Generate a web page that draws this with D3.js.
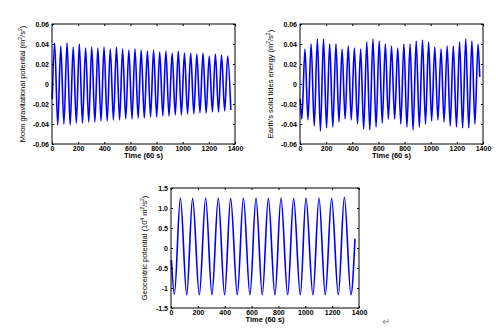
<!DOCTYPE html>
<html>
<head>
<meta charset="utf-8">
<script src="https://cdn.jsdelivr.net/npm/d3@7/dist/d3.min.js"></script>
<style>
  html, body { margin: 0; padding: 0; background: #fff; }
  svg { display: block; }
  text { font-family: "Liberation Sans", Arial, sans-serif; fill: #000; }
</style>
</head>
<body>
<svg id="chart" width="496" height="329"></svg>
<script>
// Time axis (units of 60 s)
const timeTicks = [0, 200, 400, 600, 800, 1000, 1200, 1400];

// Moon gravitational potential: start, alternating crests/troughs, end (m^2/s^2)
const moonStart = [2, -0.015];
const moonPeakT = [20, 67, 115, 162, 209, 257, 304, 351, 398, 446, 493, 540, 588, 635, 682, 730, 777, 824, 871, 919, 966, 1013, 1061, 1108, 1155, 1203, 1250, 1297, 1344];
const moonPeakV = [0.041, 0.038, 0.041, 0.037, 0.040, 0.036, 0.037, 0.036, 0.037, 0.035, 0.037, 0.035, 0.034, 0.035, 0.034, 0.033, 0.034, 0.032, 0.033, 0.031, 0.033, 0.031, 0.031, 0.030, 0.031, 0.028, 0.030, 0.029, 0.028];
const moonTroughT = [44, 91, 139, 186, 233, 281, 328, 375, 422, 470, 517, 564, 612, 659, 706, 754, 801, 848, 895, 943, 990, 1037, 1085, 1132, 1179, 1227, 1274, 1321, 1368];
const moonTroughV = [-0.041, -0.040, -0.041, -0.039, -0.039, -0.038, -0.038, -0.037, -0.037, -0.036, -0.036, -0.035, -0.035, -0.034, -0.034, -0.033, -0.033, -0.032, -0.032, -0.031, -0.031, -0.030, -0.030, -0.029, -0.029, -0.028, -0.028, -0.027, -0.026];

// Earth's solid tides energy (m^2/s^2)
const tideStart = [2, -0.015];
const tidePeakT = [38, 85, 133, 180, 227, 275, 322, 369, 416, 464, 511, 558, 606, 653, 700, 748, 795, 842, 889, 937, 984, 1031, 1079, 1126, 1173, 1221, 1268, 1315, 1362];
const tidePeakV = [0.035, 0.040, 0.045, 0.045, 0.040, 0.040, 0.035, 0.038, 0.036, 0.035, 0.042, 0.045, 0.043, 0.040, 0.038, 0.036, 0.040, 0.040, 0.043, 0.044, 0.042, 0.037, 0.035, 0.038, 0.038, 0.042, 0.045, 0.043, 0.040];
const tideTroughT = [14, 61, 109, 156, 203, 251, 298, 345, 392, 440, 487, 534, 582, 629, 676, 724, 771, 818, 865, 913, 960, 1007, 1055, 1102, 1149, 1197, 1244, 1291, 1338];
const tideTroughV = [-0.035, -0.036, -0.042, -0.047, -0.044, -0.043, -0.038, -0.035, -0.036, -0.040, -0.045, -0.046, -0.043, -0.039, -0.035, -0.035, -0.040, -0.043, -0.046, -0.043, -0.040, -0.037, -0.036, -0.038, -0.042, -0.043, -0.044, -0.044, -0.040];
const tideEnd = [1375, 0.007];

// Geocentric potential (10^4 m^2/s^2)
const geoStart = [3, -0.3];
const geoPeakT = [70, 161, 258, 352, 444, 539, 633, 725, 819, 913, 1005, 1102, 1196, 1291];
const geoPeakV = [1.25, 1.24, 1.25, 1.25, 1.24, 1.25, 1.25, 1.24, 1.25, 1.24, 1.25, 1.25, 1.24, 1.27];
const geoTroughT = [25, 117, 211, 305, 399, 494, 588, 680, 774, 869, 963, 1057, 1149, 1246, 1340];
const geoTroughV = [-1.16, -1.17, -1.17, -1.17, -1.17, -1.17, -1.17, -1.17, -1.17, -1.17, -1.17, -1.17, -1.17, -1.17, -1.17];
const geoEnd = [1370, 0.23];

const smallTicks = [0.06, 0.04, 0.02, 0, -0.02, -0.04, -0.06];
const smallTickLabels = ["0.06", "0.04", "0.02", "0", "-0.02", "-0.04", "-0.06"];
const geoTicks = [1.5, 1.0, 0.5, 0, -0.5, -1, -1.5];
const geoTickLabels = ["1.5", "1.0", "0.5", "0", "-0.5", "-1", "-1.5"];

// merge start, crest/trough lists and end into one time-ordered point list
function series(start, pT, pV, tT, tV, end) {
  const pts = [start];
  pT.forEach((t, i) => pts.push([t, pV[i]]));
  tT.forEach((t, i) => pts.push([t, tV[i]]));
  if (end) pts.push(end);
  return pts.sort((a, b) => a[0] - b[0]);
}

const panels = [
  { box: [52, 24, 235, 144], yDomain: [-0.06, 0.06], ticks: smallTicks, labels: smallTickLabels,
    labelX: 25, title: ["Moon gravitational potential (m", "2", "/s", "2", ")"],
    data: series(moonStart, moonPeakT, moonPeakV, moonTroughT, moonTroughV, null) },
  { box: [300, 24, 483, 144], yDomain: [-0.06, 0.06], ticks: smallTicks, labels: smallTickLabels,
    labelX: 273, title: ["Earth's solid tides energy (m", "2", "/s", "2", ")"],
    data: series(tideStart, tidePeakT, tidePeakV, tideTroughT, tideTroughV, tideEnd) },
  { box: [171, 188, 359, 308], yDomain: [-1.5, 1.5], ticks: geoTicks, labels: geoTickLabels,
    labelX: 147, title: ["Geocentric potential (10", "4", " m", "2", "/s", "2", ")"],
    data: series(geoStart, geoPeakT, geoPeakV, geoTroughT, geoTroughV, geoEnd) }
];

const svg = d3.select("#chart");

panels.forEach(p => {
  const [x0, y0, x1, y1] = p.box;
  const x = d3.scaleLinear().domain([0, 1400]).range([x0, x1]);
  const y = d3.scaleLinear().domain(p.yDomain).range([y1, y0]);
  const g = svg.append("g");

  // data line
  const line = d3.line().x(d => x(d[0])).y(d => y(d[1])).curve(d3.curveMonotoneX);
  g.append("path").datum(p.data)
    .attr("d", line)
    .attr("fill", "none")
    .attr("stroke", "#0000ff")
    .attr("stroke-width", 1.6);

  // frame
  g.append("rect").attr("x", x0).attr("y", y0).attr("width", x1 - x0).attr("height", y1 - y0)
    .attr("fill", "none").attr("stroke", "#000").attr("stroke-width", 1);

  const fmtX = d => String(d);
  const fmtY = d => p.labels[p.ticks.indexOf(d)];

  // axes with inward ticks
  const bottom = g.append("g").attr("transform", `translate(0,${y1})`)
    .call(d3.axisBottom(x).tickValues(timeTicks).tickFormat(fmtX).tickSizeInner(-2).tickSizeOuter(0).tickPadding(2));
  const top = g.append("g").attr("transform", `translate(0,${y0})`)
    .call(d3.axisTop(x).tickValues(timeTicks).tickFormat("").tickSizeInner(-2).tickSizeOuter(0));
  const left = g.append("g").attr("transform", `translate(${x0},0)`)
    .call(d3.axisLeft(y).tickValues(p.ticks).tickFormat(fmtY).tickSizeInner(-2).tickSizeOuter(0).tickPadding(3));
  const right = g.append("g").attr("transform", `translate(${x1},0)`)
    .call(d3.axisRight(y).tickValues(p.ticks).tickFormat("").tickSizeInner(-2).tickSizeOuter(0));

  [bottom, top, left, right].forEach(a => {
    a.select(".domain").remove();
    a.selectAll("line").attr("stroke", "#000");
    a.selectAll("text").attr("font-size", 7).attr("font-weight", "bold").attr("fill", "#000")
      .attr("font-family", "Liberation Sans, Arial, sans-serif");
  });

  // x axis title
  g.append("text").attr("x", (x0 + x1) / 2).attr("y", y1 + 14)
    .attr("text-anchor", "middle").attr("font-size", 7.5).attr("font-weight", "bold")
    .text("Time (60 s)");

  // y axis title with superscripts
  const yt = g.append("text")
    .attr("transform", `translate(${p.labelX},${(y0 + y1) / 2}) rotate(-90)`)
    .attr("text-anchor", "middle").attr("font-size", 7.5);
  p.title.forEach((part, i) => {
    const sup = i % 2 === 1;
    yt.append("tspan").text(part)
      .attr("font-size", sup ? 5 : 7.5)
      .attr("baseline-shift", sup ? "super" : null);
  });
});

// paragraph mark at the lower right
svg.append("text").attr("x", 382).attr("y", 325).attr("font-size", 10)
  .style("fill", "#888").text("\u21B5");
</script>
</body>
</html>
